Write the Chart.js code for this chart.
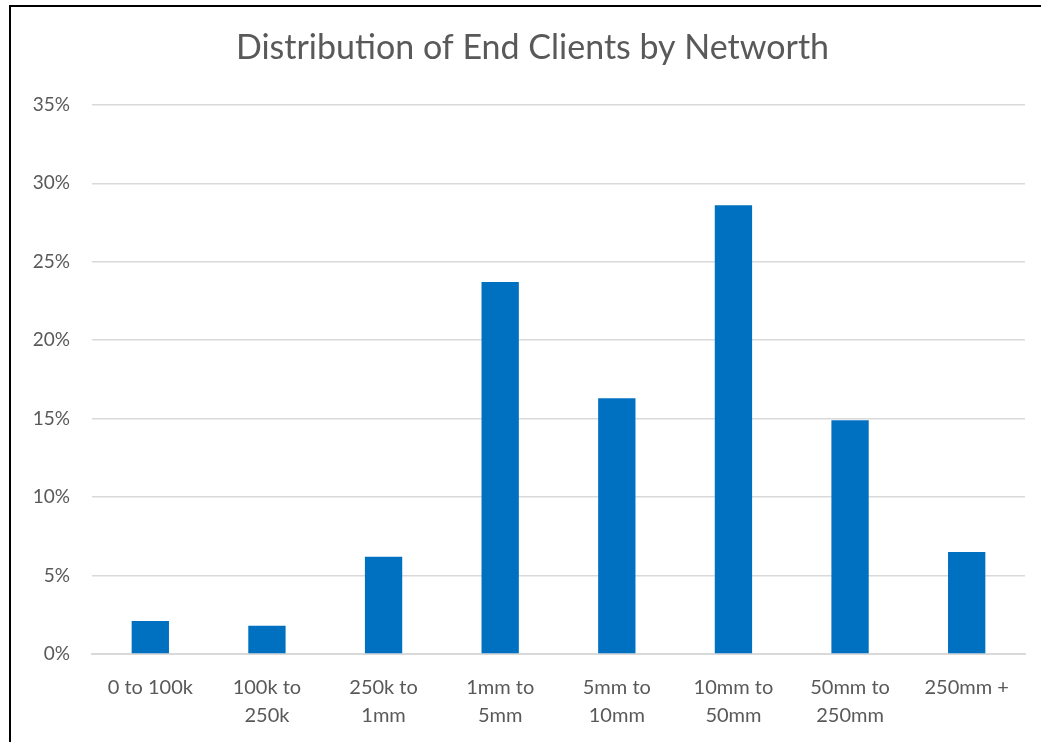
<!DOCTYPE html>
<html>
<head>
<meta charset="utf-8">
<script src="https://cdn.jsdelivr.net/npm/chart.js@4"></script>
<style>
  html, body { margin: 0; padding: 0; background: #fff; }
  #wrap { position: relative; width: 1041px; height: 742px; overflow: hidden; }
  #frame { position: absolute; left: 9px; top: 5px; width: 1100px; height: 800px;
           border-left: 2px solid #000; border-top: 2px solid #000; pointer-events: none; }
  canvas { position: absolute; left: 0; top: 0; }
</style>
</head>
<body>
<div id="wrap">
  <canvas id="networthChart" width="1041" height="742"></canvas>
  <div id="frame"></div>
</div>
<script>
// Categories (x axis), two-line labels as in the original
const categories = [
    ['0 to 100k'],
    ['100k to', '250k'],
    ['250k to', '1mm'],
    ['1mm to', '5mm'],
    ['5mm to', '10mm'],
    ['10mm to', '50mm'],
    ['50mm to', '250mm'],
    ['250mm +']
];

// Share of end clients, in percent
const clientShare = [2.1, 1.8, 6.2, 23.7, 16.3, 28.6, 14.9, 6.5];

// Y axis range
const yMax = 35;
const yStep = 5;

const textColor = '#595959';
const gridColor = '#d9d9d9';

// centre the title over the framed area instead of the whole canvas
const titleShift = {
    id: 'titleShift',
    afterLayout: function(chart) {
        if (chart.titleBlock) chart.titleBlock.left = 40;
    }
};

const ctx = document.getElementById('networthChart').getContext('2d');

new Chart(ctx, {
    type: 'bar',
    data: {
        labels: categories,
        datasets: [{
            label: 'Share of clients',
            data: clientShare,
            backgroundColor: '#0070c0',
            borderWidth: 0,
            barPercentage: 0.32,
            categoryPercentage: 1
        }]
    },
    options: {
        responsive: false,
        animation: false,
        layout: {
            padding: { top: 20, right: 16, bottom: 0, left: 0 }
        },
        plugins: {
            legend: { display: false },
            tooltip: { enabled: false },
            title: {
                display: true,
                text: 'Distribution of End Clients by Networth',
                color: textColor,
                font: { family: 'Lato', size: 34, weight: 'normal', lineHeight: 1.2 },
                padding: { top: 8, bottom: 36 }
            }
        },
        scales: {
            x: {
                grid: { display: false, drawTicks: false },
                border: { display: true, color: gridColor, width: 2 },
                ticks: {
                    color: textColor,
                    font: { family: 'Lato', size: 20, lineHeight: 1.4 },
                    padding: 20,
                    maxRotation: 0,
                    autoSkip: false
                },
                afterFit: function(scale) { scale.height = 88; }
            },
            y: {
                min: 0,
                max: yMax,
                grid: { color: gridColor, lineWidth: 1.5, drawTicks: false },
                border: { display: false },
                ticks: {
                    stepSize: yStep,
                    color: textColor,
                    font: { family: 'Lato', size: 19 },
                    padding: 22,
                    callback: function(v) { return v + '%'; }
                },
                afterFit: function(scale) { scale.width = 92; }
            }
        }
    },
    plugins: [titleShift]
});
</script>
</body>
</html>
